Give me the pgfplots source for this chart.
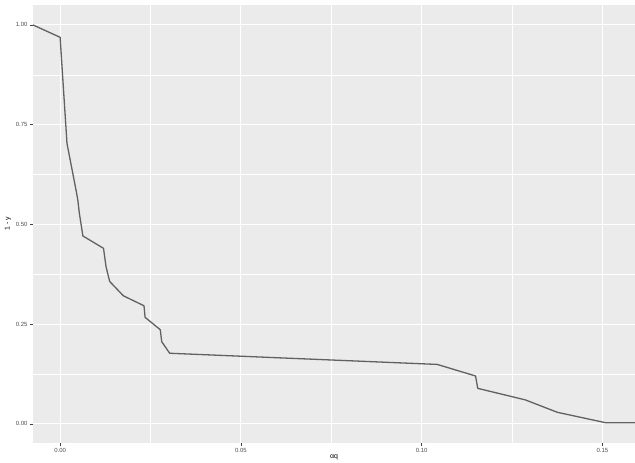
\documentclass[border=0pt]{standalone}
\usepackage{pgfplots}
\pgfplotsset{compat=1.18}
\usepackage{fontspec}
\setmainfont{Liberation Sans}
\definecolor{panelbg}{HTML}{EBEBEB}
\definecolor{ticktext}{HTML}{4D4D4D}
\begin{document}
\begin{tikzpicture}
\useasboundingbox (0,0) rectangle (635bp,463bp);
\begin{axis}[
  at={(33bp,20bp)}, anchor=south west,
  scale only axis, width=602bp, height=438bp,
  xmin=-0.0075, xmax=0.159, ymin=-0.048, ymax=1.05,
  axis background/.style={fill=panelbg},
  axis line style={draw=none},
  xtick={0,0.05,0.1,0.15}, xticklabels={0.00,0.05,0.10,0.15},
  ytick={0,0.25,0.5,0.75,1}, yticklabels={0.00,0.25,0.50,0.75,1.00},
  minor xtick={0.025,0.075,0.125}, minor ytick={0.125,0.375,0.625,0.875},
  grid=both,
  major grid style={white, line width=0.9bp},
  minor grid style={white, line width=0.45bp},
  xtick pos=bottom, ytick pos=left,
  tick align=outside, major tick length=3bp, minor tick length=0pt,
  tick style={color=black!75, line width=0.6bp},
  ticklabel style={font=\fontsize{6}{7}\selectfont, text=ticktext},
  xticklabel style={yshift=1bp},
  yticklabel style={xshift=1bp},
  xlabel={αq}, ylabel={1 - y},
  label style={font=\fontsize{7}{8}\selectfont, text=black},
  xlabel style={at={(axis description cs:0.5,0)}, anchor=center, yshift=-14bp},
  ylabel style={at={(axis description cs:0,0.5)}, anchor=center, yshift=25bp},
  clip=true,
]
\addplot[color=black!62, line width=1.3bp, line join=round] coordinates {
(-0.0075,1.000)
(0.0000,0.969)
(0.0019,0.703)
(0.0044,0.586)
(0.0049,0.561)
(0.0053,0.529)
(0.0063,0.471)
(0.0120,0.440)
(0.0127,0.394)
(0.0137,0.357)
(0.0175,0.321)
(0.0232,0.296)
(0.0235,0.267)
(0.0277,0.236)
(0.0281,0.206)
(0.0303,0.177)
(0.1043,0.149)
(0.1149,0.120)
(0.1155,0.089)
(0.1287,0.060)
(0.1375,0.029)
(0.1508,0.003)
(0.1600,0.003)
};
\end{axis}
\end{tikzpicture}
\end{document}
